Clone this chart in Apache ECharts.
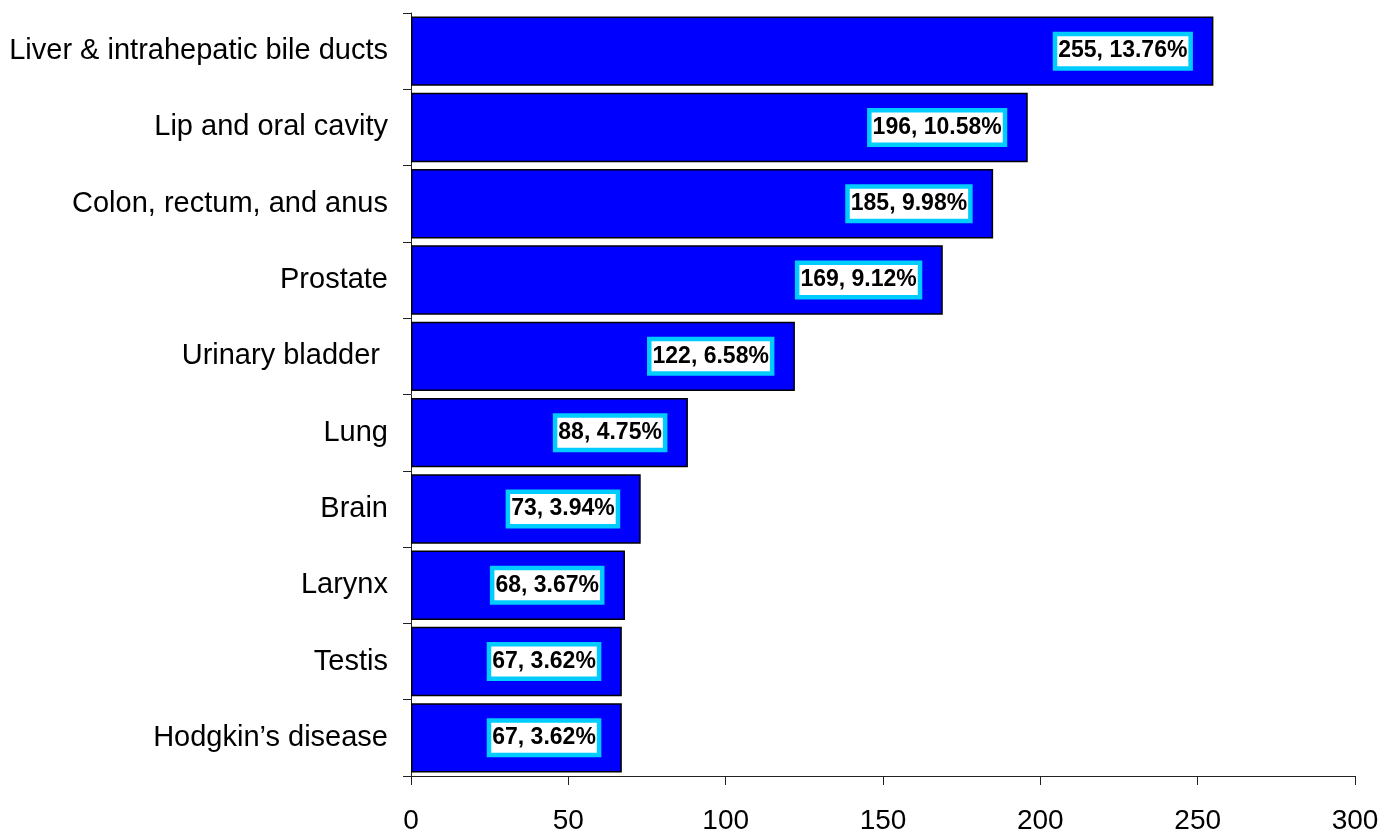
<!DOCTYPE html>
<html><head><meta charset="utf-8">
<script src="https://cdn.jsdelivr.net/npm/echarts@6/dist/echarts.min.js"></script>
<style>html,body{margin:0;padding:0;background:#fff}#c{width:1382px;height:833px}</style>
</head><body><div id="c"></div>
<script>
const categories = ["Liver & intrahepatic bile ducts","Lip and oral cavity","Colon, rectum, and anus","Prostate","Urinary bladder ","Lung","Brain","Larynx","Testis","Hodgkin\u2019s disease"];
const counts = [255,196,185,169,122,88,73,68,67,67];
const percents = ["13.76%","10.58%","9.98%","9.12%","6.58%","4.75%","3.94%","3.67%","3.62%","3.62%"];
const xTicks = [0,50,100,150,200,250,300];

const chart = echarts.init(document.getElementById('c'));
chart.setOption({
  animation:false,
  grid:{left:411,right:27,top:13,bottom:57,containLabel:false,outerBoundsMode:'none'},
  xAxis:{type:'value',min:xTicks[0],max:xTicks[xTicks.length-1],interval:xTicks[1]-xTicks[0],
    axisLine:{show:true,lineStyle:{color:'#222',width:1}},
    axisTick:{show:true,length:9,lineStyle:{color:'#222'}},
    splitLine:{show:false},
    axisLabel:{fontFamily:'Arial, Liberation Sans',fontSize:28,color:'#000',margin:31}},
  yAxis:{type:'category',data:categories,inverse:true,
    axisLine:{show:true,lineStyle:{color:'#222',width:1}},
    axisTick:{show:true,length:8,lineStyle:{color:'#222'}},
    axisLabel:{fontFamily:'Arial, Liberation Sans',fontSize:29,color:'#000',margin:23}},
  series:[{type:'bar',data:counts,barCategoryGap:'9%',
    itemStyle:{color:'#0000FF',borderColor:'#000',borderWidth:1.5},
    label:{show:true,position:'insideRight',distance:25,
      formatter:p=>p.value+', '+percents[p.dataIndex],
      fontFamily:'Arial, Liberation Sans',fontSize:23,fontWeight:'bold',color:'#000',lineHeight:26,
      backgroundColor:'#fff',borderColor:'#00CCFF',borderWidth:4.5,padding:[3,1,1,1]}}]
});
</script></body></html>
